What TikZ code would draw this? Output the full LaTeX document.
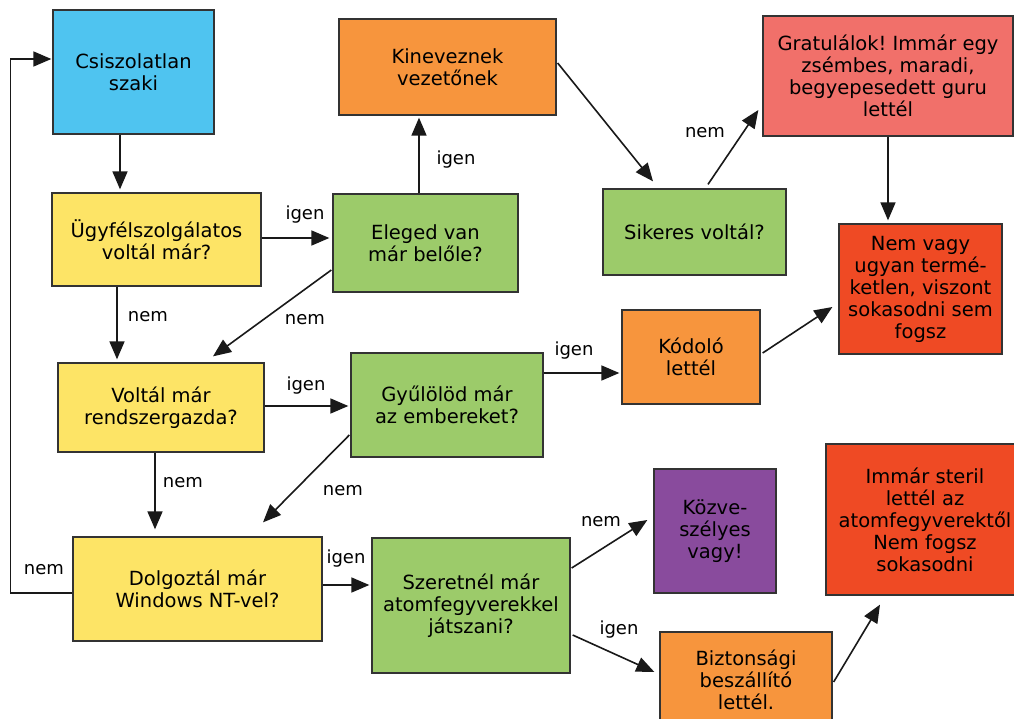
\documentclass[tikz,border=0pt]{standalone}
\usepackage{fontspec}
\setmainfont{DejaVu Sans}
\usetikzlibrary{arrows.meta,calc}
\definecolor{cblue}{HTML}{4FC4F0}
\definecolor{cyellow}{HTML}{FDE466}
\definecolor{cgreen}{HTML}{9CCB6A}
\definecolor{corange}{HTML}{F7953D}
\definecolor{csalmon}{HTML}{F1706A}
\definecolor{cred}{HTML}{EF4A24}
\definecolor{cpurple}{HTML}{894B9D}
\frenchspacing
\begin{document}
\begin{tikzpicture}[x=1pt,y=-1pt,
  box/.style={draw=black!80,line width=1.3pt,align=center,inner sep=0pt,font=\fontsize{19.5}{22}\selectfont},
  arr/.style={line width=1.6pt,draw=black!90,-{Triangle[length=18pt,width=15pt]}},
  lbl/.style={font=\fontsize{18}{20}\selectfont,inner sep=0pt}]
\useasboundingbox (0,0) rectangle (1014,719);
\clip (0,0) rectangle (1014,719);
\fill[white] (0,0) rectangle (1014,719);
% boxes
\node[box,fill=cblue,minimum width=161,minimum height=124] (A) at (133.5,72) {Csiszolatlan\\szaki};
\node[box,fill=cyellow,minimum width=209,minimum height=93] (B) at (156.5,239.5) {Ügyfélszolgálatos\\voltál már?};
\node[box,fill=cgreen,minimum width=185,minimum height=98] (C) at (425.5,243) {Eleged van\\már belőle?};
\node[box,fill=corange,minimum width=217,minimum height=96] (D) at (447.5,67) {Kineveznek\\vezetőnek};
\node[box,fill=cgreen,minimum width=183,minimum height=86] (E) at (694.5,232) {Sikeres voltál?};
\node[box,fill=csalmon,minimum width=250,minimum height=120] (F) at (888,76) {Gratulálok! Immár egy\\zsémbes, maradi,\\begyepesedett guru\\lettél};
\node[box,fill=cred,minimum width=163,minimum height=130] (G) at (920.5,289) {Nem vagy\\ugyan termé-\\ketlen, viszont\\sokasodni sem\\fogsz};
\node[box,fill=corange,minimum width=138,minimum height=94] (H) at (691,357) {Kódoló\\lettél};
\node[box,fill=cyellow,minimum width=206,minimum height=89] (I) at (161,407.5) {Voltál már\\rendszergazda?};
\node[box,fill=cgreen,minimum width=192,minimum height=104] (J) at (447,405) {Gyűlölöd már\\az embereket?};
\node[box,fill=cyellow,minimum width=249,minimum height=104] (K) at (197.5,589) {Dolgoztál már\\Windows NT-vel?};
\node[box,fill=cgreen,minimum width=198,minimum height=135] (L) at (471,605.5) {Szeretnél már\\atomfegyverekkel\\játszani?};
\node[box,fill=cpurple,minimum width=122,minimum height=124] (M) at (715,531) {Közve-\\szélyes\\vagy!};
\node[box,fill=cred,minimum width=198,minimum height=151] (N) at (925,519.5) {Immár steril\\lettél az\\atomfegyverektől\\Nem fogsz\\sokasodni};
\node[box,fill=corange,minimum width=172,minimum height=96] (O) at (746,680) {Biztonsági\\beszállító\\lettél.};
% connectors
\draw[arr] ($(A.south)+(-13.5,0)$) -- ($(B.north)+(-36.5,-3)$);
\draw[arr] ($(B.east)+(0,-1.5)$) -- ($(C.west)+(-3,-5)$);
\draw[arr] ($(C.north)+(-6.5,0)$) -- ($(D.south)+(-28.5,2)$);
\draw[arr] ($(D.east)+(1,-4)$) -- ($(E.north)+(-41.5,-7)$);
\draw[arr] ($(E.north)+(13.5,-4)$) -- ($(F.west)+(-4,34)$);
\draw[arr] (F.south) -- ($(G.north)+(-32.5,-3)$);
\draw[arr] ($(B.south)+(-39.5,0)$) -- ($(I.north)+(-44,-3)$);
\draw[arr] ($(C.west)+(-1,27)$) -- ($(I.north)+(52,-6)$);
\draw[arr] ($(I.east)+(0,-1.5)$) -- ($(J.west)+(-2,1)$);
\draw[arr] ($(J.east)+(0,-32)$) -- ($(H.west)+(-2,16)$);
\draw[arr] ($(H.east)+(2,-4)$) -- ($(G.west)+(-6,18)$);
\draw[arr] ($(I.south)+(-6,0)$) -- ($(K.north)+(-42.5,-7)$);
\draw[arr] ($(J.west)+(-1,30)$) -- ($(K.north)+(65.5,-14)$);
\draw[arr] ($(K.west)+(0,4)$) -- ++(-62,0) |- ($(A.west)+(-1,-13)$);
\draw[arr] ($(K.east)+(0,-4)$) -- ($(L.west)+(-2,-20.5)$);
\draw[arr] ($(L.east)+(1,-37.5)$) -- ($(M.west)+(-6,-11)$);
\draw[arr] ($(L.east)+(2,29.5)$) -- ($(O.west)+(-5,-8)$);
\draw[arr] ($(O.east)+(1,2)$) -- ($(N.south)+(-45,9)$);
% labels
\node[lbl] (l1) at (305,215) {igen};
\node[lbl] (l2) at (456,160) {igen};
\node[lbl] (l3) at (705,133) {nem};
\node[lbl] (l4) at (148,317) {nem};
\node[lbl] (l5) at (305,320) {nem};
\node[lbl] (l6) at (306,386) {igen};
\node[lbl] (l7) at (574,351) {igen};
\node[lbl] (l8) at (183,483) {nem};
\node[lbl] (l9) at (343,491) {nem};
\node[lbl] (l10) at (44,570) {nem};
\node[lbl] (l11) at (346,559) {igen};
\node[lbl] (l12) at (601,522) {nem};
\node[lbl] (l13) at (619,630) {igen};
\end{tikzpicture}
\end{document}
